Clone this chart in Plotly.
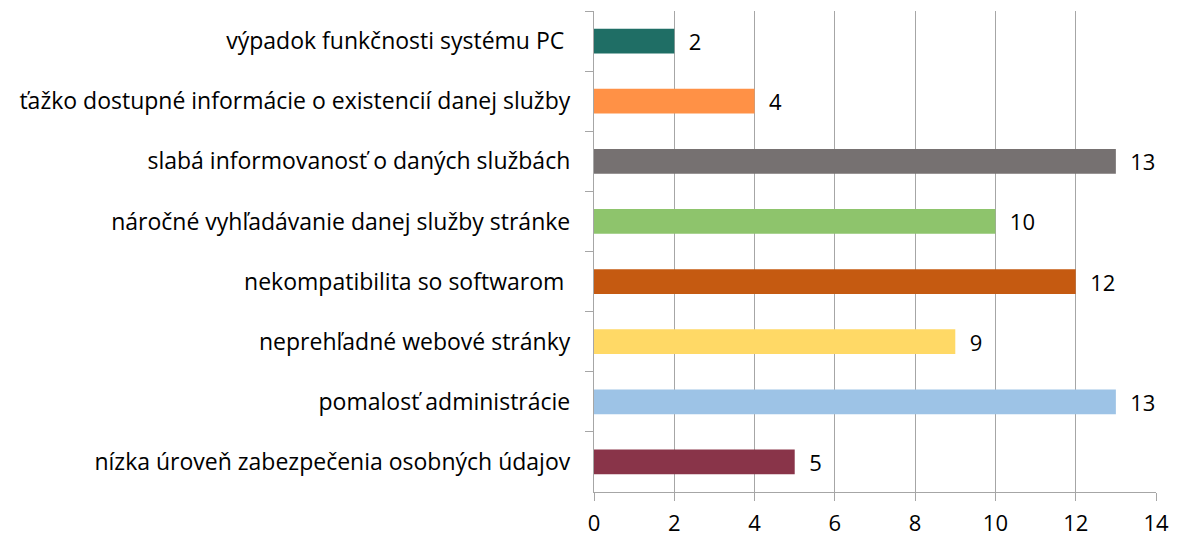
import plotly.graph_objects as go

categories = [
    "výpadok funkčnosti systému PC ",
    "ťažko dostupné informácie o existencií danej služby",
    "slabá informovanosť o daných službách",
    "náročné vyhľadávanie danej služby stránke",
    "nekompatibilita so softwarom ",
    "neprehľadné webové stránky",
    "pomalosť administrácie",
    "nízka úroveň zabezpečenia osobných údajov",
]
values = [2, 4, 13, 10, 12, 9, 13, 5]
colors = ["#1F6E65", "#FF9146", "#767171", "#8EC46C", "#C55A11", "#FFD966", "#9DC3E6", "#893449"]
x_ticks = [0, 2, 4, 6, 8, 10, 12, 14]

FONT = "Open Sans"
FS = 22

fig = go.Figure()
fig.add_trace(go.Bar(
    y=categories, x=values, orientation="h",
    marker=dict(color=colors, line=dict(width=0)),
    text=[f"  {v}" for v in values], textposition="outside",
    textfont=dict(size=FS, color="#000000", family=FONT),
    cliponaxis=False, textangle=0, constraintext="none",
))

fig.update_layout(
    width=1180, height=535,
    margin=dict(l=586, r=32, t=3, b=51),
    paper_bgcolor="white", plot_bgcolor="white",
    bargap=0.59, showlegend=False,
    font=dict(family=FONT, size=FS, color="#000000"),
    xaxis=dict(range=[0, 14], tickvals=x_ticks, showgrid=True, gridcolor="#A6A6A6", gridwidth=1.3,
               showline=True, linecolor="#A6A6A6", linewidth=1.3, ticks="outside", ticklen=8,
               tickcolor="#A6A6A6", zeroline=False, tickfont=dict(size=FS, family=FONT),
               ticklabelstandoff=3),
    yaxis=dict(autorange="reversed", showline=True, linecolor="#A6A6A6", linewidth=1.3,
               ticks="outside", ticklen=8, tickcolor="#A6A6A6", tickson="boundaries",
               showgrid=False, tickfont=dict(size=23, family=FONT), ticklabelstandoff=18),
)

fig.write_html("out.html")
